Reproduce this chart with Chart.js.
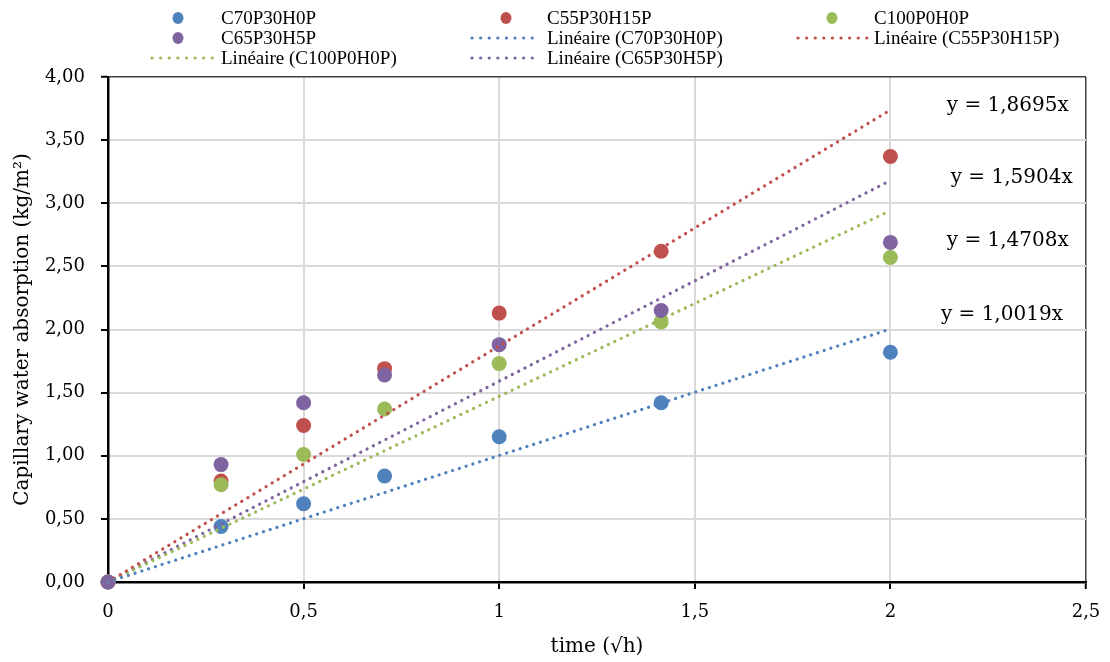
<!DOCTYPE html>
<html>
<head>
<meta charset="utf-8">
<script src="https://cdn.jsdelivr.net/npm/chart.js@4/dist/chart.umd.min.js"></script>
<style>
  html, body { margin: 0; padding: 0; background: #fff }
  #wrap { width: 1110px; height: 662px; position: relative }
</style>
</head>
<body>
<div id="wrap"><canvas id="chart"></canvas></div>
<script>
// time in sqrt(hours): 0, 5 min, 15 min, 30 min, 1 h, 2 h, 4 h
const times = [0, 0.289, 0.5, 0.707, 1, 1.414, 2]

const c70p30h0p = [0, 0.44, 0.62, 0.84, 1.15, 1.42, 1.82]
const c55p30h15p = [0, 0.80, 1.24, 1.69, 2.13, 2.62, 3.37]
const c100p0h0p = [0, 0.77, 1.01, 1.37, 1.73, 2.06, 2.57]
const c65p30h5p = [0, 0.93, 1.42, 1.64, 1.88, 2.15, 2.69]

// linear trendlines through origin, drawn from x = 0 to x = 2
const trendX = [0, 2]
const trendC70 = [0, 2.0038]
const trendC55 = [0, 3.739]
const trendC100 = [0, 2.9416]
const trendC65 = [0, 3.1808]

// equation labels: text and position in data units
const eqTexts = ['y = 1,8695x', 'y = 1,5904x', 'y = 1,4708x', 'y = 1,0019x']
const eqX = [2.30, 2.31, 2.30, 2.285]
const eqY = [3.77, 3.20, 2.70, 2.115]

const xTicks = [0, 0.5, 1, 1.5, 2, 2.5]
const yTicks = [0, 0.5, 1, 1.5, 2, 2.5, 3, 3.5, 4]

const BLUE = '#4f81bd'
const RED = '#c0504d'
const GREEN = '#9bbb59'
const PURPLE = '#8064a2'

const SERIF = '"DejaVu Serif", "Liberation Serif", serif'

const pts = (xs, ys) => xs.map((x, i) => ({ x: x, y: ys[i] }))

function scatterSet (label, ys, color, order) {
    return {
        label: label,
        data: pts(times, ys),
        backgroundColor: color,
        borderColor: color,
        pointRadius: 7.5,
        pointHoverRadius: 7.5,
        pointBorderWidth: 0,
        showLine: false,
        clip: false,
        order: order
    }
}

function trendSet (label, ys, color) {
    return {
        label: label,
        data: pts(trendX, ys),
        borderColor: color,
        backgroundColor: color,
        borderWidth: 3.2,
        borderDash: [0.1, 7],
        borderCapStyle: 'round',
        pointRadius: 0,
        showLine: true,
        clip: false,
        order: 0
    }
}

const datasets = [
    scatterSet('C70P30H0P', c70p30h0p, BLUE, 4),
    scatterSet('C55P30H15P', c55p30h15p, RED, 3),
    scatterSet('C100P0H0P', c100p0h0p, GREEN, 2),
    scatterSet('C65P30H5P', c65p30h5p, PURPLE, 1),
    trendSet('Linéaire (C70P30H0P)', trendC70, BLUE),
    trendSet('Linéaire (C55P30H15P)', trendC55, RED),
    trendSet('Linéaire (C100P0H0P)', trendC100, GREEN),
    trendSet('Linéaire (C65P30H5P)', trendC65, PURPLE)
]

// legend grid, Excel style: three columns filled row by row
const legendCols = [{ dot: 178, x0: 152, x1: 213, text: 221 },
                    { dot: 506, x0: 472, x1: 540, text: 547 },
                    { dot: 832, x0: 798, x1: 867, text: 874 }]
const legendRows = [18, 38, 58]

const legendPlugin = {
    id: 'excelLegend',
    afterDraw (chart) {
        const ctx = chart.ctx
        ctx.save()
        ctx.font = '19px "Liberation Serif", serif'
        ctx.textBaseline = 'middle'
        ctx.textAlign = 'left'
        chart.data.datasets.forEach((ds, i) => {
            const col = legendCols[i % 3]
            const y = legendRows[Math.floor(i / 3)]
            if (ds.showLine) {
                ctx.strokeStyle = ds.borderColor
                ctx.lineWidth = 3.2
                ctx.lineCap = 'round'
                ctx.setLineDash([0.1, 8.5])
                ctx.beginPath()
                ctx.moveTo(col.x0, y)
                ctx.lineTo(col.x1, y)
                ctx.stroke()
                ctx.setLineDash([])
            } else {
                ctx.fillStyle = ds.backgroundColor
                ctx.beginPath()
                ctx.ellipse(col.dot, y, 5.5, 6, 0, 0, Math.PI * 2)
                ctx.fill()
            }
            ctx.fillStyle = '#000'
            ctx.fillText(ds.label, col.text, y + 1)
        })
        ctx.restore()
    }
}

const equationPlugin = {
    id: 'equations',
    afterDatasetsDraw (chart) {
        const ctx = chart.ctx
        const xs = chart.scales.x
        const ys = chart.scales.y
        ctx.save()
        ctx.font = '20px ' + SERIF
        ctx.fillStyle = '#000'
        ctx.textAlign = 'center'
        ctx.textBaseline = 'middle'
        eqTexts.forEach((t, i) => {
            ctx.fillText(t, xs.getPixelForValue(eqX[i]), ys.getPixelForValue(eqY[i]))
        })
        ctx.restore()
    }
}

const comma = (v) => String(v).replace('.', ',')

new Chart(document.getElementById('chart'), {
    type: 'scatter',
    data: { datasets: datasets },
    plugins: [legendPlugin, equationPlugin],
    options: {
        responsive: true,
        maintainAspectRatio: false,
        animation: false,
        layout: { padding: { top: 77, right: 24, bottom: 0, left: 0 } },
        plugins: {
            legend: { display: false },
            tooltip: { enabled: false }
        },
        scales: {
            x: {
                type: 'linear',
                min: 0,
                max: 2.5,
                afterBuildTicks: (s) => { s.ticks = xTicks.map(v => ({ value: v })) },
                afterFit: (s) => {
                    s.height = 80
                    s.paddingLeft = 0
                    s.paddingRight = 0
                },
                ticks: {
                    callback: (v) => comma(v),
                    font: { family: SERIF, size: 18 },
                    color: '#000',
                    padding: 13,
                    maxRotation: 0
                },
                grid: {
                    color: (c) => c.tick && c.tick.value === 2.5 ? '#404040' : '#d9d9d9',
                    lineWidth: (c) => c.tick && c.tick.value === 2.5 ? 1.5 : 2,
                    tickColor: '#000',
                    tickLength: 7,
                    tickWidth: 2
                },
                border: { color: '#000', width: 2.5 },
                title: {
                    display: true,
                    text: 'time (√h)',
                    font: { family: SERIF, size: 20 },
                    color: '#000',
                    padding: { top: 0, bottom: 3 }
                }
            },
            y: {
                type: 'linear',
                min: 0,
                max: 4,
                afterBuildTicks: (s) => { s.ticks = yTicks.map(v => ({ value: v })) },
                afterFit: (s) => { s.width = 108 },
                ticks: {
                    callback: (v) => v.toFixed(2).replace('.', ','),
                    font: { family: SERIF, size: 18 },
                    color: '#000',
                    padding: 16
                },
                grid: {
                    color: (c) => c.tick && c.tick.value === 4 ? '#404040' : '#d9d9d9',
                    lineWidth: (c) => c.tick && c.tick.value === 4 ? 1.5 : 2,
                    tickColor: '#000',
                    tickLength: 7,
                    tickWidth: 2
                },
                border: { color: '#000', width: 2.5 },
                title: {
                    display: true,
                    text: 'Capillary water absorption (kg/m²)',
                    font: { family: SERIF, size: 20 },
                    color: '#000',
                    padding: { top: 11, bottom: 0 }
                }
            }
        }
    }
})
</script>
</body>
</html>
